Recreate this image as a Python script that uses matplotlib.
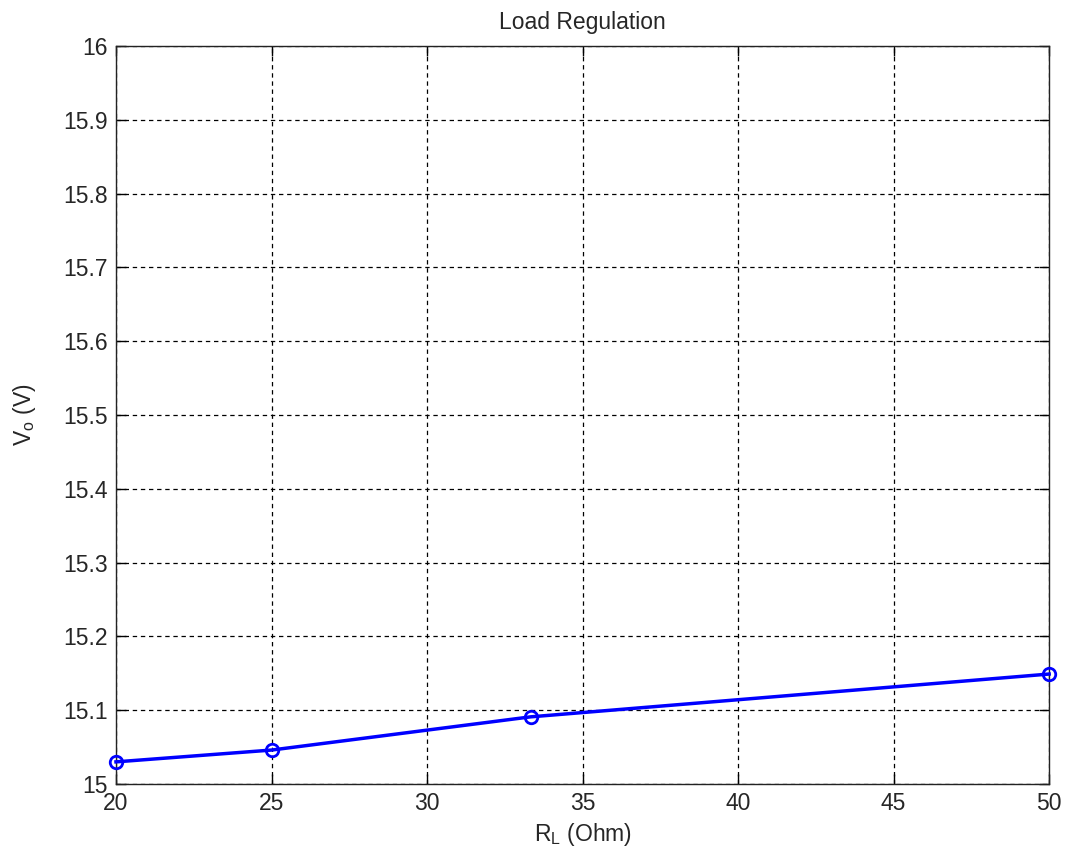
import numpy as np
import matplotlib
matplotlib.use('Agg')
import matplotlib.pyplot as plt

# Load regulation measurements
load_ohm = [20, 25, 33.33, 50]
vout = [15.030, 15.046, 15.091, 15.149]

xticks = [20, 25, 30, 35, 40, 45, 50]
yticks = [15.0, 15.1, 15.2, 15.3, 15.4, 15.5, 15.6, 15.7, 15.8, 15.9, 16.0]
ytick_labels = ['15', '15.1', '15.2', '15.3', '15.4', '15.5', '15.6', '15.7', '15.8', '15.9', '16']

plt.rcParams['font.family'] = ['Liberation Sans', 'DejaVu Sans']
plt.rcParams['mathtext.fontset'] = 'custom'
plt.rcParams['mathtext.rm'] = 'Liberation Sans'
plt.rcParams['mathtext.it'] = 'Liberation Sans'

txt = '#262626'

fig = plt.figure(figsize=(10.66, 8.59), dpi=100)
ax = fig.add_axes([0.1088, 0.0873, 0.8754, 0.8592])

ax.plot(load_ohm, vout, '-o', color='#0000ff', lw=2.5, markersize=9,
        markerfacecolor='none', markeredgewidth=2, zorder=3, clip_on=False)

ax.set_xlim(20, 50)
ax.set_ylim(15, 16)
ax.set_xticks(xticks)
ax.set_yticks(yticks)
ax.set_yticklabels(ytick_labels)

ax.grid(True, color='black', linestyle=(0, (3.5, 3)), linewidth=0.9)
ax.tick_params(direction='in', top=True, right=True, length=7, width=1,
               labelsize=16.5, labelcolor=txt, pad=6)
for s in ax.spines.values():
    s.set_color('#222222')
    s.set_linewidth(1)

ax.set_title('Load Regulation', fontsize=16.5, color=txt, pad=12)
ax.set_xlabel(r'R$_\mathrm{L}$ (Ohm)', fontsize=16.5, color=txt, labelpad=4)
ax.set_ylabel(r'V$_\mathrm{o}$ (V)', fontsize=16.5, color=txt, labelpad=18)

plt.savefig('out.png', dpi=100)
